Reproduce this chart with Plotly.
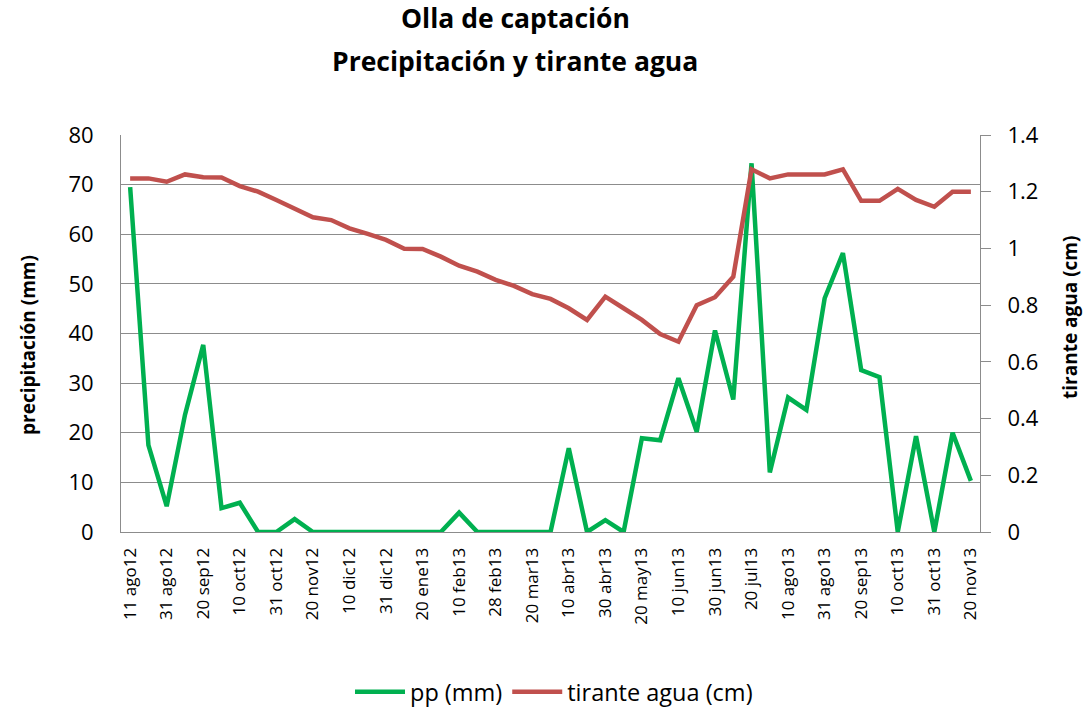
import plotly.graph_objects as go

fechas = ["11 ago12", "21 ago12", "31 ago12", "10 sep12", "20 sep12", "30 sep12",
          "10 oct12", "20 oct12", "31 oct12", "10 nov12", "20 nov12", "30 nov12",
          "10 dic12", "20 dic12", "31 dic12", "10 ene13", "20 ene13", "31 ene13",
          "10 feb13", "20 feb13", "28 feb13", "10 mar13", "20 mar13", "31 mar13",
          "10 abr13", "20 abr13", "30 abr13", "10 may13", "20 may13", "31 may13",
          "10 jun13", "20 jun13", "30 jun13", "10 jul13", "20 jul13", "31 jul13",
          "10 ago13", "20 ago13", "31 ago13", "10 sep13", "20 sep13", "30 sep13",
          "10 oct13", "20 oct13", "31 oct13", "10 nov13", "20 nov13"]

pp_mm = [69.5, 17.5, 5.2, 23.6, 37.7, 4.8, 5.9, 0, 0, 2.6, 0, 0,
         0, 0, 0, 0, 0, 0, 3.9, 0, 0, 0, 0, 0,
         16.9, 0, 2.4, 0, 18.9, 18.5, 31.0, 20.2, 40.6, 26.7, 74.3, 12.0,
         27.1, 24.6, 47.1, 56.2, 32.6, 31.2, 0, 19.3, 0, 20.0, 10.3]

tirante_cm = [1.247, 1.247, 1.235, 1.261, 1.251, 1.25, 1.22, 1.2, 1.171, 1.141, 1.11, 1.10,
              1.071, 1.051, 1.03, 0.999, 0.998, 0.971, 0.939, 0.918, 0.889, 0.868, 0.839, 0.822,
              0.789, 0.748, 0.83, 0.789, 0.748, 0.698, 0.671, 0.80, 0.828, 0.90, 1.279, 1.247,
              1.261, 1.261, 1.261, 1.279, 1.168, 1.168, 1.21, 1.171, 1.147, 1.2, 1.2]

etiquetas_x = fechas[::2]

titulo_1 = "Olla de captación"
titulo_2 = "Precipitación y tirante agua"

FONT = "'Open Sans', sans-serif"
GRID = "#8c8c8c"

# plot area in pixels (reference)
L, R, T, B = 121, 980, 135, 532
W, H = 1089, 708
PW, PH = R - L, B - T


def px_x(x):
    return (x - L) / PW


def px_y(y):
    return (B - y) / PH


fig = go.Figure()
fig.add_trace(go.Scatter(x=fechas, y=pp_mm, name="pp (mm)", mode="lines",
                         line=dict(color="#00B050", width=4.5)))
fig.add_trace(go.Scatter(x=fechas, y=tirante_cm, name="tirante agua (cm)", mode="lines",
                         line=dict(color="#C0504D", width=4.5), yaxis="y2"))

fig.update_layout(
    width=W, height=H, autosize=False,
    margin=dict(l=L, r=W - R, t=T, b=H - B, autoexpand=False),
    paper_bgcolor="white", plot_bgcolor="white",
    font=dict(family=FONT, color="black"),
    xaxis=dict(type="category", categoryorder="array", categoryarray=fechas,
               tickmode="array", tickvals=etiquetas_x, ticktext=etiquetas_x,
               tickangle=-90, tickfont=dict(size=17), range=[-0.5, 46.5],
               showgrid=False, showline=True, linecolor=GRID, linewidth=1,
               ticks="", ticklabelstandoff=8, zeroline=False, automargin=False),
    yaxis=dict(range=[0, 80], dtick=10, tickfont=dict(size=22), showgrid=True,
               gridcolor=GRID, gridwidth=1, showline=True, linecolor=GRID,
               ticks="", ticklabelstandoff=22, zeroline=False, automargin=False),
    yaxis2=dict(range=[0, 1.4], dtick=0.2, overlaying="y", side="right",
                tickfont=dict(size=22), showgrid=False, showline=True,
                linecolor=GRID, ticks="outside", ticklen=10, tickcolor=GRID,
                ticklabelstandoff=12, zeroline=False, automargin=False),
    legend=dict(orientation="h", x=px_x(554), xanchor="center",
                yref="container", y=1 - 692 / H, yanchor="middle",
                font=dict(size=23.5), itemwidth=50, bgcolor="rgba(0,0,0,0)"),
    showlegend=True,
)

fig.add_annotation(text="<b>" + titulo_1 + "</b>", xref="paper", yref="paper",
                   x=px_x(515), y=px_y(18), showarrow=False,
                   font=dict(size=26.5, family=FONT), xanchor="center", yanchor="middle")
fig.add_annotation(text="<b>" + titulo_2 + "</b>", xref="paper", yref="paper",
                   x=px_x(515), y=px_y(61), showarrow=False,
                   font=dict(size=26.5, family=FONT), xanchor="center", yanchor="middle")

fig.add_annotation(text="<b>precipitación (mm)</b>", xref="paper", yref="paper",
                   x=px_x(28), y=px_y(345), textangle=-90, showarrow=False,
                   font=dict(size=19, family=FONT), xanchor="center", yanchor="middle")
fig.add_annotation(text="<b>tirante agua (cm)</b>", xref="paper", yref="paper",
                   x=px_x(1070), y=px_y(318), textangle=-90, showarrow=False,
                   font=dict(size=19, family=FONT), xanchor="center", yanchor="middle")

fig.write_html("out.html", config={"displayModeBar": False},
               post_script="document.body.style.margin='0px';")
